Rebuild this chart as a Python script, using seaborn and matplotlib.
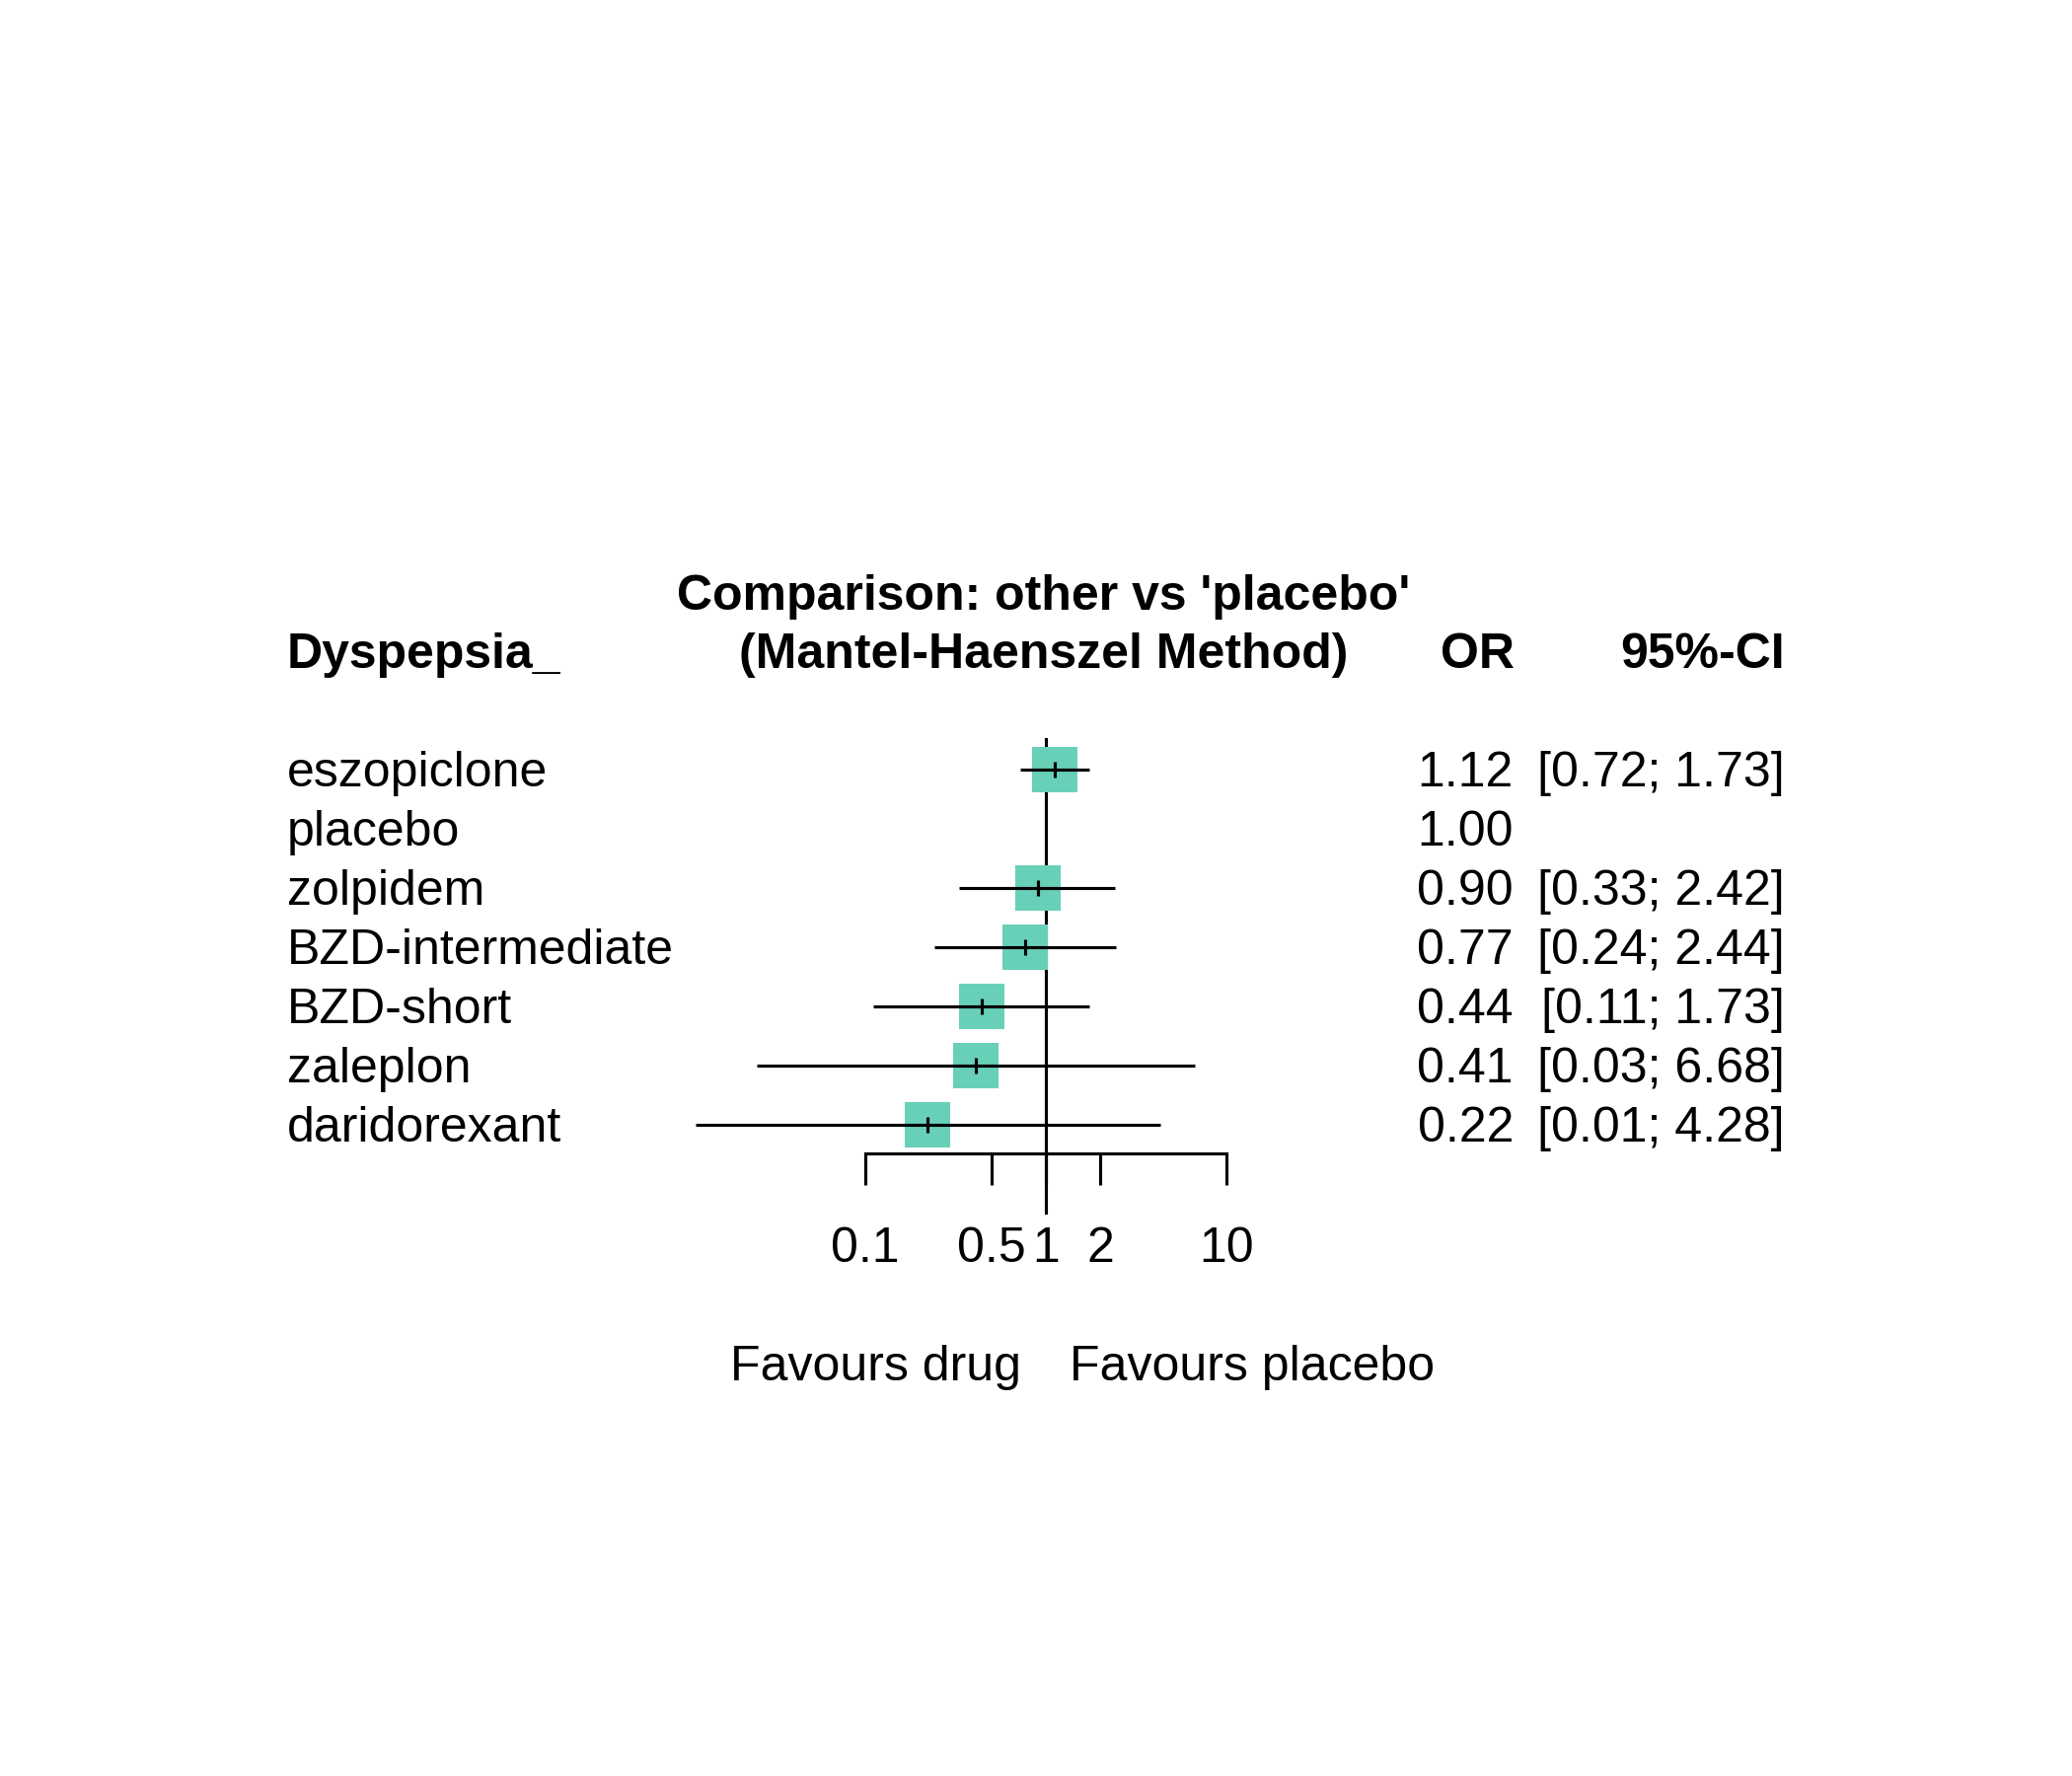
import numpy as np
import pandas as pd
import matplotlib
matplotlib.use("Agg")
import matplotlib.pyplot as plt
import matplotlib.transforms as mtransforms
import seaborn as sns

# Forest plot data (odds ratios vs placebo)
treatments = ['eszopiclone', 'placebo', 'zolpidem', 'BZD-intermediate',
              'BZD-short', 'zaleplon', 'daridorexant']
or_vals = [1.12, 1.00, 0.90, 0.77, 0.44, 0.41, 0.22]
ci_lower = [0.72, np.nan, 0.33, 0.24, 0.11, 0.025, 0.0115]
ci_upper = [1.73, np.nan, 2.42, 2.44, 1.73, 6.68, 4.28]
axis_ticks = [0.1, 0.5, 1, 2, 10]
axis_labels = ['0.1', '0.5', '1', '2', '10']

df = pd.DataFrame({'treatment': treatments, 'OR': or_vals,
                   'lower': ci_lower, 'upper': ci_upper})
df['row'] = np.arange(len(df))
has_ci = df.dropna(subset=['lower'])

sns.set_theme(style="white")
plt.rcParams['font.family'] = ['Liberation Sans', 'DejaVu Sans']
plt.rcParams['text.color'] = 'black'
plt.rcParams['xtick.color'] = 'black'
plt.rcParams['xtick.labelcolor'] = 'black'

W, H = 2100, 1800
fig = plt.figure(figsize=(7, 6), dpi=300)

# forest column placed in pixel terms of the reference
ax = fig.add_axes([694 / W, 1 - 1231 / H, (1334.5 - 694) / W, (1231 - 748) / H])
ax.set_xscale('log')
ax.set_xlim(10 ** -2, 10 ** 1.5)
ax.set_ylim(7.517, -0.533)
ax.patch.set_alpha(0)

ax.axvline(1, color='black', lw=0.75, zorder=1)
sns.scatterplot(data=has_ci, x='OR', y='row', marker='s', s=122,
                color='#68D0B8', linewidth=0, edgecolor='none', zorder=2,
                ax=ax, legend=False)
ax.hlines(has_ci['row'], has_ci['lower'], has_ci['upper'],
          color='black', lw=0.75, zorder=3)
ax.scatter(has_ci['OR'], has_ci['row'], marker='|', s=13,
           color='black', linewidths=0.75, zorder=4)

for side in ['top', 'left', 'right']:
    ax.spines[side].set_visible(False)
ax.spines['bottom'].set_position(('data', 6.483))
ax.spines['bottom'].set_bounds(0.1, 10)
ax.spines['bottom'].set_linewidth(0.75)
ax.spines['bottom'].set_color('black')
ax.set_xticks(axis_ticks)
ax.set_xticklabels(axis_labels)
ax.xaxis.set_minor_locator(matplotlib.ticker.NullLocator())
ax.tick_params(axis='x', direction='out', length=7.7, width=0.75,
               color='black', labelcolor='black', labelsize=12, pad=10,
               bottom=True)
ax.set_yticks([])
ax.set_xlabel('')
ax.set_ylabel('')

# text columns: x in figure fraction, y on the row scale
rows_tr = mtransforms.blended_transform_factory(fig.transFigure, ax.transData)
rows_tr = mtransforms.offset_copy(rows_tr, fig=fig, y=-17, units='dots')

for _, r in df.iterrows():
    ax.text(291 / W, r['row'], r['treatment'], transform=rows_tr,
            ha='left', va='baseline', fontsize=12)
    ax.text(1534 / W, r['row'], f"{r['OR']:.2f}", transform=rows_tr,
            ha='right', va='baseline', fontsize=12)
    if not np.isnan(r['lower']):
        ax.text(1809 / W, r['row'], f"[{r['lower']:.2f}; {r['upper']:.2f}]",
                transform=rows_tr, ha='right', va='baseline', fontsize=12)

fig.text(1058 / W, 1 - 618 / H, "Comparison: other vs 'placebo'",
         ha='center', va='baseline', fontsize=12, fontweight='bold')
fig.text(1058 / W, 1 - 677 / H, "(Mantel-Haenszel Method)",
         ha='center', va='baseline', fontsize=12, fontweight='bold')
fig.text(291 / W, 1 - 677 / H, "Dyspepsia_",
         ha='left', va='baseline', fontsize=12, fontweight='bold')
fig.text(1535 / W, 1 - 677 / H, "OR",
         ha='right', va='baseline', fontsize=12, fontweight='bold')
fig.text(1809 / W, 1 - 677 / H, "95%-CI",
         ha='right', va='baseline', fontsize=12, fontweight='bold')

fig.text(1035 / W, 1 - 1399 / H, "Favours drug",
         ha='right', va='baseline', fontsize=12)
fig.text(1084 / W, 1 - 1399 / H, "Favours placebo",
         ha='left', va='baseline', fontsize=12)

fig.savefig('out.png', dpi=300, facecolor='white')
